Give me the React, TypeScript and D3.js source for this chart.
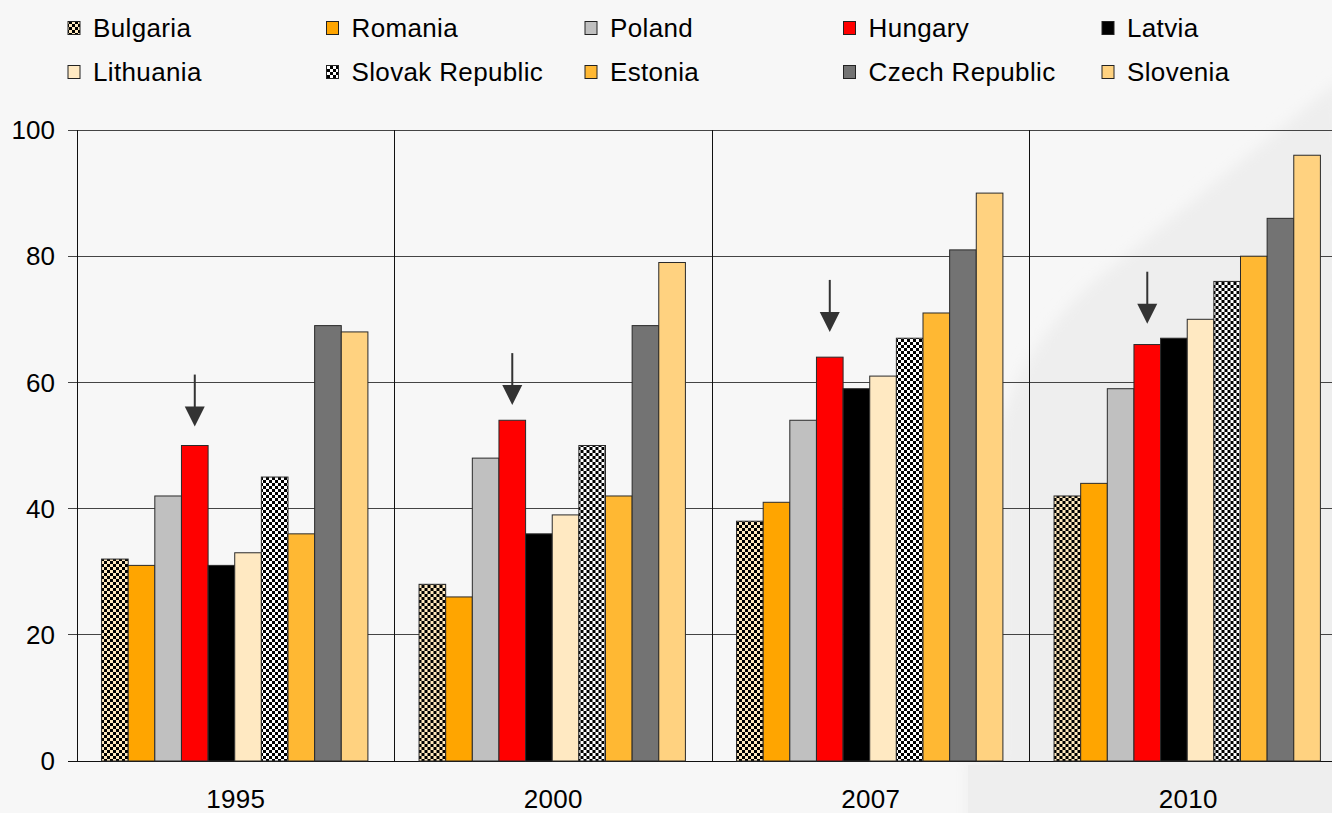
import React from "react";
import * as d3 from "d3";

const years = ["1995", "2000", "2007", "2010"];
const countries = [
  "Bulgaria",
  "Romania",
  "Poland",
  "Hungary",
  "Latvia",
  "Lithuania",
  "Slovak Republic",
  "Estonia",
  "Czech Republic",
  "Slovenia",
];
// values per country, in the order of years
const bulgaria = [32, 28, 38, 42];
const romania = [31, 26, 41, 44];
const poland = [42, 48, 54, 59];
const hungary = [50, 54, 64, 66];
const latvia = [31, 36, 59, 67];
const lithuania = [33, 39, 61, 70];
const slovak = [45, 50, 67, 76];
const estonia = [36, 42, 71, 80];
const czech = [69, 69, 81, 86];
const slovenia = [68, 79, 90, 96];
const seriesValues = [bulgaria, romania, poland, hungary, latvia, lithuania, slovak, estonia, czech, slovenia];

// arrows marking Hungary, tip value per year
const arrowTips = [53, 56.4, 68, 69.3];
const yTicks = [0, 20, 40, 60, 80, 100];

const fills = [
  "url(#chkCream)",
  "#ffa500",
  "#c0c0c0",
  "#ff0000",
  "#000000",
  "#ffe9c2",
  "url(#chkWhite)",
  "#ffb833",
  "#737373",
  "#ffd280",
];

const W = 1332;
const H = 813;
const left = 77;
const groupW = 317.5;
const top = 130;
const bottom = 761;

export default function App() {
  const x0 = d3
    .scaleBand<string>()
    .domain(years)
    .range([left, left + groupW * years.length])
    .padding(0);
  const x1 = d3
    .scaleBand<string>()
    .domain(countries)
    .range([0, x0.bandwidth()])
    .paddingInner(0)
    .paddingOuter(0.96)
    .align(0.48);
  const y = d3.scaleLinear().domain([0, 100]).range([bottom, top]);
  const font = "'Liberation Sans', Arial, Helvetica, sans-serif";
  const hIdx = countries.indexOf("Hungary");

  return (
    <svg
      width={W}
      height={H}
      style={{ position: "absolute", left: 0, top: 0, display: "block" }}
      fontFamily={font}
    >
      <defs>
        <pattern id="chkCream" width="6" height="6" patternUnits="userSpaceOnUse">
          <rect width="6" height="6" fill="#ffe8bd" />
          <rect width="3" height="3" fill="#000" />
          <rect x="3" y="3" width="3" height="3" fill="#000" />
        </pattern>
        <pattern id="chkWhite" width="6" height="6" patternUnits="userSpaceOnUse">
          <rect width="6" height="6" fill="#ffffff" />
          <rect width="3" height="3" fill="#000" />
          <rect x="3" y="3" width="3" height="3" fill="#000" />
        </pattern>
        <filter id="soft" x="-10%" y="-10%" width="120%" height="120%">
          <feGaussianBlur stdDeviation="7" />
        </filter>
      </defs>
      <rect width={W} height={H} fill="#f7f7f7" />
      <path
        d="M968 830 L968 761 L1000 761 L1000 430 Q1020 350 1090 285 L1340 80 L1350 830 Z"
        fill="#eeeeee"
        filter="url(#soft)"
      />
      <rect x={968} y={765} width={400} height={60} fill="#eeeeee" />

      {/* legend */}
      {countries.map((c, i) => {
        const col = i % 5;
        const row = Math.floor(i / 5);
        const lx = 68 + col * 258.5;
        const ly = 28 + row * 44;
        return (
          <g key={c}>
            <rect x={lx} y={ly - 6.5} width={12} height={13} fill={fills[i]} stroke="#222" strokeWidth={1} />
            <text x={lx + 25} y={ly} dy="0.35em" fontSize={26} letterSpacing={0.35} fill="#000">
              {c}
            </text>
          </g>
        );
      })}

      {/* horizontal gridlines */}
      {yTicks.map((t) => (
        <g key={t}>
          <line x1={68} x2={W} y1={y(t)} y2={y(t)} stroke={t === 0 ? "#111" : "#444"} strokeWidth={1} shapeRendering="crispEdges" />
          <text x={55} y={y(t)} dy="0.35em" textAnchor="end" fontSize={26} fill="#000">
            {t}
          </text>
        </g>
      ))}
      {/* y axis and group separators */}
      <line x1={left} x2={left} y1={top} y2={bottom} stroke="#111" strokeWidth={1} shapeRendering="crispEdges" />
      {years.slice(1).map((yr) => (
        <line
          key={yr}
          x1={x0(yr)!}
          x2={x0(yr)!}
          y1={top}
          y2={bottom}
          stroke="#111"
          strokeWidth={1}
          shapeRendering="crispEdges"
        />
      ))}

      {/* bars */}
      {years.map((yr, yi) => (
        <g key={yr} transform={`translate(${x0(yr)},0)`}>
          {countries.map((c, ci) => {
            const v = seriesValues[ci][yi];
            return (
              <rect
                key={c}
                x={x1(c)!}
                y={y(v)}
                width={x1.bandwidth()}
                height={bottom - y(v)}
                fill={fills[ci]}
                stroke="#2a2a2a"
                strokeWidth={1}
              />
            );
          })}
          <text
            x={x0.bandwidth() / 2}
            y={808}
            textAnchor="middle"
            fontSize={26}
            letterSpacing={0.3}
            fill="#000"
          >
            {yr}
          </text>
          {(() => {
            const cx = x1(countries[hIdx])! + x1.bandwidth() / 2;
            const tip = y(arrowTips[yi]);
            return (
              <g>
                <line x1={cx} x2={cx} y1={tip - 52} y2={tip - 18} stroke="#333" strokeWidth={2} />
                <path d={`M${cx - 10} ${tip - 20} L${cx + 10} ${tip - 20} L${cx} ${tip} Z`} fill="#333" />
              </g>
            );
          })()}
        </g>
      ))}
    </svg>
  );
}
